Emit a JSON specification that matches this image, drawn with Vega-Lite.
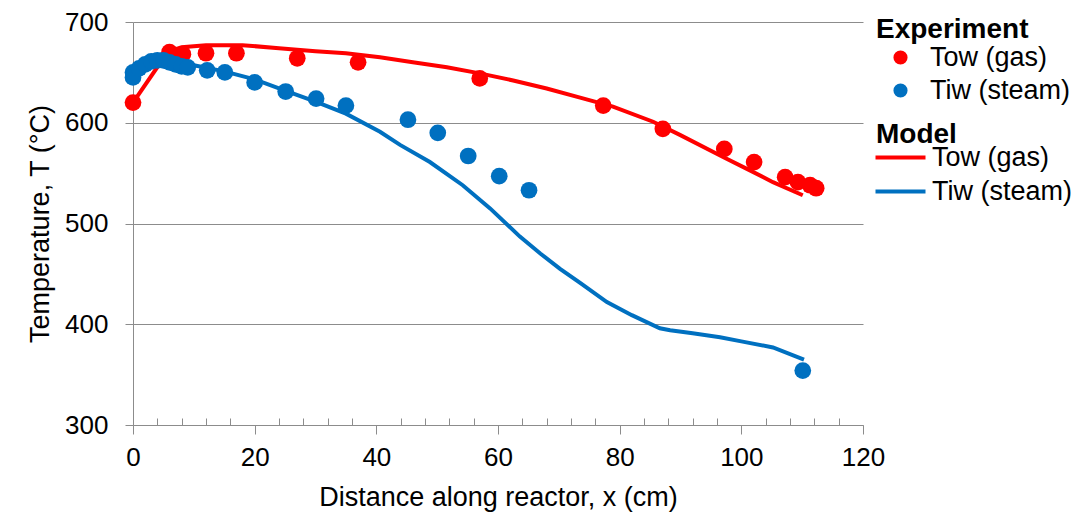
{
  "$schema": "https://vega.github.io/schema/vega-lite/v6.json",
  "width": 730,
  "height": 403,
  "autosize": {"type": "none"},
  "padding": {"left": 133, "top": 22, "right": 216, "bottom": 87},
  "background": "white",
  "config": {
    "view": {"stroke": null},
    "font": "Liberation Sans",
    "axis": {"labelFont": "Liberation Sans", "titleFont": "Liberation Sans", "labelColor": "#000000", "titleColor": "#000000", "titleFontWeight": "normal"},
    "legend": {"labelFont": "Liberation Sans", "titleFont": "Liberation Sans", "labelColor": "#000000", "titleColor": "#000000"}
  },
  "datasets": {
    "experiment": [
      {"x": 0, "T": 620, "series": "Tow (gas)"},
      {"x": 6, "T": 670, "series": "Tow (gas)"},
      {"x": 8.2, "T": 668, "series": "Tow (gas)"},
      {"x": 12, "T": 669, "series": "Tow (gas)"},
      {"x": 17, "T": 669, "series": "Tow (gas)"},
      {"x": 27, "T": 664, "series": "Tow (gas)"},
      {"x": 37, "T": 660, "series": "Tow (gas)"},
      {"x": 57, "T": 644, "series": "Tow (gas)"},
      {"x": 77.3, "T": 617, "series": "Tow (gas)"},
      {"x": 87.1, "T": 594, "series": "Tow (gas)"},
      {"x": 97.2, "T": 574, "series": "Tow (gas)"},
      {"x": 102.1, "T": 561, "series": "Tow (gas)"},
      {"x": 107.2, "T": 546, "series": "Tow (gas)"},
      {"x": 109.3, "T": 541, "series": "Tow (gas)"},
      {"x": 111.3, "T": 538, "series": "Tow (gas)"},
      {"x": 112.3, "T": 535, "series": "Tow (gas)"},
      {"x": 0, "T": 645, "series": "Tiw (steam)"},
      {"x": 0, "T": 650, "series": "Tiw (steam)"},
      {"x": 1, "T": 654, "series": "Tiw (steam)"},
      {"x": 2, "T": 658, "series": "Tiw (steam)"},
      {"x": 3, "T": 661, "series": "Tiw (steam)"},
      {"x": 4, "T": 662, "series": "Tiw (steam)"},
      {"x": 5, "T": 662, "series": "Tiw (steam)"},
      {"x": 6, "T": 660, "series": "Tiw (steam)"},
      {"x": 7, "T": 658, "series": "Tiw (steam)"},
      {"x": 8, "T": 656, "series": "Tiw (steam)"},
      {"x": 9, "T": 655, "series": "Tiw (steam)"},
      {"x": 12.2, "T": 652, "series": "Tiw (steam)"},
      {"x": 15.1, "T": 650, "series": "Tiw (steam)"},
      {"x": 20, "T": 640, "series": "Tiw (steam)"},
      {"x": 25.1, "T": 631, "series": "Tiw (steam)"},
      {"x": 30.1, "T": 624, "series": "Tiw (steam)"},
      {"x": 35, "T": 617, "series": "Tiw (steam)"},
      {"x": 45.2, "T": 603, "series": "Tiw (steam)"},
      {"x": 50.1, "T": 590, "series": "Tiw (steam)"},
      {"x": 55.1, "T": 567, "series": "Tiw (steam)"},
      {"x": 60.2, "T": 547, "series": "Tiw (steam)"},
      {"x": 65.1, "T": 533, "series": "Tiw (steam)"},
      {"x": 110.1, "T": 354, "series": "Tiw (steam)"}
    ],
    "model": [
      {"x": 0, "T": 620, "series": "Tow (gas)"},
      {"x": 5, "T": 664, "series": "Tow (gas)"},
      {"x": 6, "T": 671, "series": "Tow (gas)"},
      {"x": 8, "T": 675, "series": "Tow (gas)"},
      {"x": 12, "T": 677, "series": "Tow (gas)"},
      {"x": 18, "T": 677, "series": "Tow (gas)"},
      {"x": 24, "T": 674, "series": "Tow (gas)"},
      {"x": 30, "T": 671, "series": "Tow (gas)"},
      {"x": 35, "T": 669, "series": "Tow (gas)"},
      {"x": 40.6, "T": 665, "series": "Tow (gas)"},
      {"x": 46, "T": 660, "series": "Tow (gas)"},
      {"x": 51.6, "T": 655, "series": "Tow (gas)"},
      {"x": 57, "T": 649, "series": "Tow (gas)"},
      {"x": 62.5, "T": 642, "series": "Tow (gas)"},
      {"x": 68, "T": 634, "series": "Tow (gas)"},
      {"x": 73.5, "T": 625, "series": "Tow (gas)"},
      {"x": 78.9, "T": 616, "series": "Tow (gas)"},
      {"x": 85.5, "T": 601, "series": "Tow (gas)"},
      {"x": 89.9, "T": 588, "series": "Tow (gas)"},
      {"x": 97, "T": 566, "series": "Tow (gas)"},
      {"x": 101, "T": 554, "series": "Tow (gas)"},
      {"x": 105.2, "T": 541, "series": "Tow (gas)"},
      {"x": 110.1, "T": 528, "series": "Tow (gas)"},
      {"x": 0, "T": 648, "series": "Tiw (steam)"},
      {"x": 2, "T": 658, "series": "Tiw (steam)"},
      {"x": 3.5, "T": 663, "series": "Tiw (steam)"},
      {"x": 5, "T": 663, "series": "Tiw (steam)"},
      {"x": 8, "T": 660, "series": "Tiw (steam)"},
      {"x": 10, "T": 657, "series": "Tiw (steam)"},
      {"x": 15, "T": 651, "series": "Tiw (steam)"},
      {"x": 20, "T": 643, "series": "Tiw (steam)"},
      {"x": 25, "T": 632, "series": "Tiw (steam)"},
      {"x": 30, "T": 621, "series": "Tiw (steam)"},
      {"x": 35, "T": 609, "series": "Tiw (steam)"},
      {"x": 40.6, "T": 591, "series": "Tiw (steam)"},
      {"x": 43.9, "T": 578, "series": "Tiw (steam)"},
      {"x": 48.8, "T": 561, "series": "Tiw (steam)"},
      {"x": 54.2, "T": 538, "series": "Tiw (steam)"},
      {"x": 58.7, "T": 515, "series": "Tiw (steam)"},
      {"x": 63.6, "T": 487, "series": "Tiw (steam)"},
      {"x": 67, "T": 470, "series": "Tiw (steam)"},
      {"x": 70.2, "T": 455, "series": "Tiw (steam)"},
      {"x": 73.5, "T": 441, "series": "Tiw (steam)"},
      {"x": 77.9, "T": 422, "series": "Tiw (steam)"},
      {"x": 82, "T": 409, "series": "Tiw (steam)"},
      {"x": 86.6, "T": 396, "series": "Tiw (steam)"},
      {"x": 88.3, "T": 394, "series": "Tiw (steam)"},
      {"x": 92, "T": 391, "series": "Tiw (steam)"},
      {"x": 96.5, "T": 387, "series": "Tiw (steam)"},
      {"x": 100, "T": 383, "series": "Tiw (steam)"},
      {"x": 105.2, "T": 377, "series": "Tiw (steam)"},
      {"x": 110.3, "T": 365, "series": "Tiw (steam)"}
    ]
  },
  "encoding": {
    "x": {
      "field": "x",
      "type": "quantitative",
      "scale": {"domain": [0, 120], "nice": false, "zero": false},
      "axis": {
        "title": "Distance along reactor, x (cm)",
        "titleFontSize": 27,
        "titleBaseline": "alphabetic",
        "titleY": 80,
        "labelFontSize": 26,
        "values": [0, 4, 8, 12, 16, 20, 24, 28, 32, 36, 40, 44, 48, 52, 56, 60, 64, 68, 72, 76, 80, 84, 88, 92, 96, 100, 104, 108, 112, 116, 120],
        "labelExpr": "datum.value % 20 === 0 ? datum.label : ''",
        "labelOverlap": false,
        "labelFlush": false,
        "labelPadding": 10,
        "tickSize": {"condition": {"test": "datum.value % 20 === 0", "value": 9}, "value": -7},
        "tickColor": "#8c8c8c",
        "domainColor": "#8c8c8c",
        "grid": false
      }
    },
    "y": {
      "field": "T",
      "type": "quantitative",
      "scale": {"domain": [300, 700], "nice": false, "zero": false},
      "axis": {
        "title": "Temperature, T (°C)",
        "titleFontSize": 27,
        "labelFontSize": 26,
        "values": [300, 400, 500, 600, 700],
        "labelPadding": 17,
        "tickSize": 8,
        "tickColor": "#8c8c8c",
        "domainColor": "#8c8c8c",
        "grid": true,
        "gridColor": "#8c8c8c",
        "titlePadding": 10
      }
    }
  },
  "layer": [
    {
      "data": {"name": "model"},
      "mark": {"type": "line", "strokeWidth": 4},
      "encoding": {
        "stroke": {
          "field": "series",
          "type": "nominal",
          "sort": "descending",
          "scale": {"range": ["#FF0000", "#0070C0"]},
          "legend": {
            "title": "Model",
            "orient": "none",
            "legendX": 743,
            "legendY": 99,
            "padding": 0,
            "titleFontSize": 28,
            "titleFontWeight": "bold",
            "titlePadding": -5,
            "labelFontSize": 27,
            "symbolType": "M-5,0H5",
            "symbolSize": 100,
            "symbolStrokeWidth": 4,
            "symbolOffset": 11,
            "labelOffset": 18,
            "rowPadding": 6
          }
        }
      }
    },
    {
      "data": {"name": "experiment"},
      "mark": {"type": "circle", "size": 280, "opacity": 1},
      "encoding": {
        "fill": {
          "field": "series",
          "type": "nominal",
          "sort": "descending",
          "scale": {"range": ["#FF0000", "#0070C0"]},
          "legend": {
            "title": "Experiment",
            "orient": "none",
            "legendX": 743,
            "legendY": -6,
            "padding": 0,
            "titleFontSize": 28,
            "titleFontWeight": "bold",
            "titlePadding": 0,
            "labelFontSize": 27,
            "symbolType": "circle",
            "symbolSize": 200,
            "symbolOpacity": 1,
            "symbolStrokeWidth": 0,
            "symbolOffset": 11,
            "labelOffset": 16,
            "rowPadding": 5
          }
        }
      }
    }
  ]
}
